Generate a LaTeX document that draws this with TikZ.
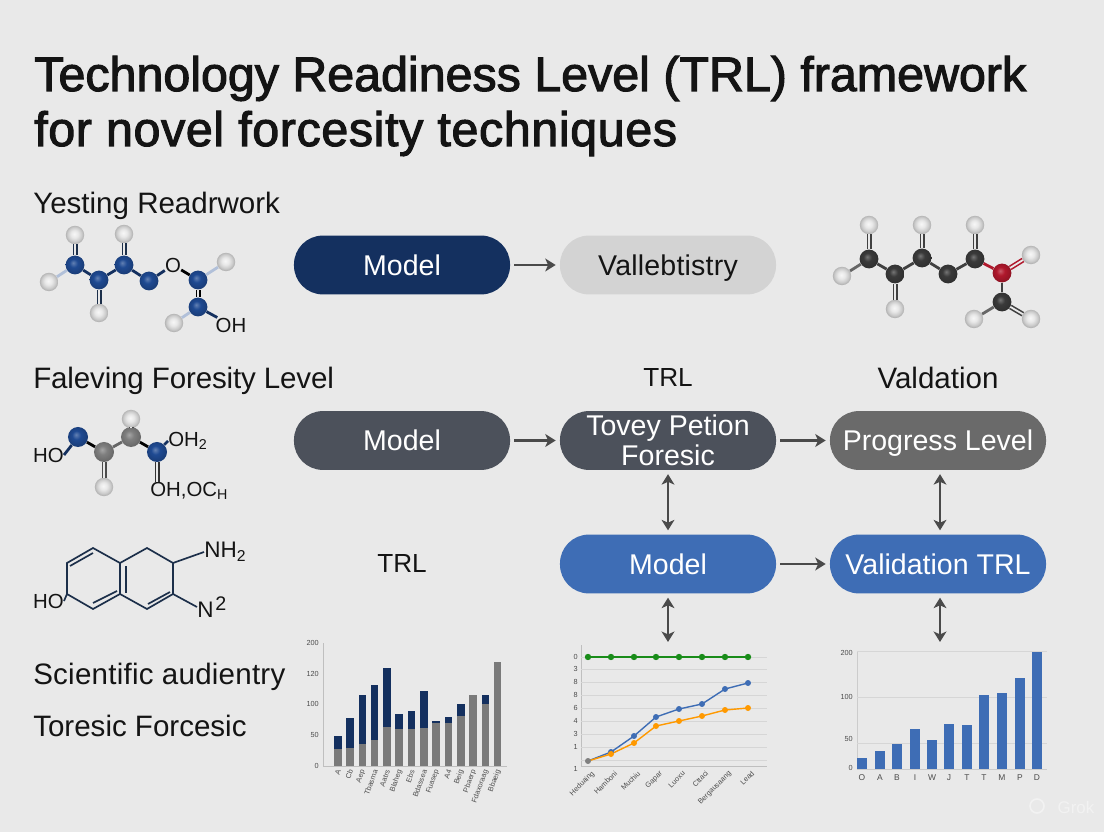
\documentclass[tikz,border=0pt]{standalone}
\usepackage{fontspec}
\setmainfont{Liberation Sans}
\newfontfamily\titlefont[FakeBold=2.2]{Liberation Sans}
\usepackage{tikz}
\usetikzlibrary{arrows.meta,positioning,calc}
\definecolor{bgmid}{HTML}{E9E9E9}
\definecolor{navy}{HTML}{14305F}
\definecolor{slate}{HTML}{4C515B}
\definecolor{steel}{HTML}{6A6A6A}
\definecolor{azure}{HTML}{3E6DB5}
\definecolor{pale}{HTML}{D3D3D3}
\definecolor{ink}{HTML}{141414}
\definecolor{bond}{HTML}{1C2F4A}
\definecolor{gridc}{HTML}{D6D6D6}
\definecolor{arrc}{HTML}{4A4A4A}
\definecolor{atomb}{HTML}{1F4A92}
\definecolor{atomk}{HTML}{3A3A3A}
\definecolor{atomg}{HTML}{7F7F7F}
\definecolor{atomr}{HTML}{B0182C}
\newcommand{\defatom}[2]{\pgfdeclareradialshading{#1}{\pgfpoint{-5bp}{6bp}}{color(0bp)=(#2!70!white); color(11bp)=(#2); color(30bp)=(#2!78!black); color(50bp)=(#2!78!black)}}
\defatom{ballb}{atomb}
\defatom{ballk}{atomk}
\defatom{ballg}{atomg}
\defatom{ballr}{atomr}
\pgfdeclareradialshading{ballh}{\pgfpoint{-2bp}{3bp}}{color(0bp)=(black!3); color(10bp)=(black!9); color(19bp)=(black!20); color(28bp)=(black!36); color(50bp)=(black!36)}
\begin{document}
\begin{tikzpicture}[x=0.025cm,y=-0.025cm,
  head/.style={anchor=base west, inner sep=0pt, text=ink, font=\titlefont\fontsize{34.4}{40}\selectfont},
  lab/.style={inner sep=0pt, text=ink, font=\fontsize{21}{24}\selectfont},
  pill/.style={rounded corners=7.2mm, minimum width=54mm, minimum height=14.7mm, inner sep=0pt,
               align=center, text=white, font=\fontsize{20.3}{21.3}\selectfont},
  one/.style={text height=14.7pt, text depth=0pt},
  arr/.style={-{Stealth[length=2.6mm,width=3.2mm,inset=0.7mm]}, line width=0.55mm, draw=arrc, shorten <=1mm, shorten >=1mm},
  both/.style={arr, {Stealth[length=2.6mm,width=3.2mm,inset=0.7mm]}-{Stealth[length=2.6mm,width=3.2mm,inset=0.7mm]}},
  atom/.style={circle, inner sep=0pt, minimum size=4.7mm},
  cb/.style={atom, shading=ballb},
  cg/.style={atom, shading=ballk},
  cd/.style={atom, shading=ballg},
  cr/.style={atom, shading=ballr},
  ch/.style={atom, minimum size=4.6mm, shading=ballh},
  sb/.style={line width=0.7mm, draw=#1},
  db/.style={line width=0.4mm, draw=#1, double=bgmid, double distance=0.45mm},
  mtxt/.style={inner sep=0pt, text=ink, font=\fontsize{14.5}{16}\selectfont},
  ntxt/.style={inner sep=0pt, text=ink, font=\fontsize{16}{18}\selectfont},
  ring/.style={line width=0.42mm, draw=bond},
  tick/.style={inner sep=0pt, text=black!70, font=\fontsize{5.2}{6}\selectfont},
  gline/.style={line width=0.2mm, draw=gridc}]
% ---- page ----
\useasboundingbox (0,0) rectangle (1104,832);
\fill[bgmid] (0,0) rectangle (1104,832);
% ---- title and labels ----
\node[head] (title1) at (34,91) {Technology Readiness Level (TRL) framework};
\node[head] (title2) at (34,146) {\addfontfeature{LetterSpace=1.3}for novel forcesity techniques};
\node[lab, anchor=base west] (yest) at (33,214) {Yesting Readrwork};
\node[lab, anchor=base west] (fale) at (33,389) {\addfontfeature{LetterSpace=-0.5}Faleving Foresity Level};
\node[lab, font=\fontsize{18.6}{22}\selectfont] (trla) at (668,378) {TRL};
\node[lab] (vald) at (938,378) {Valdation};
\node[lab, font=\fontsize{18.6}{22}\selectfont] (trlb) at (402,564) {TRL};
\node[lab, anchor=base west] (scie) at (33,684) {\addfontfeature{LetterSpace=0.8}Scientific audientry};
\node[lab, anchor=base west] (tore) at (33,736) {Toresic Forcesic};
% ---- row 1: pills ----
\node[pill, one, fill=navy] (modela) at (402,265) {Model};
\node[pill, one, fill=pale, text=ink] (vall) at (668,265) {\addfontfeature{LetterSpace=0.7}Vallebtistry};
% ---- row 2: pills ----
\node[pill, one, fill=slate] (modelb) at (402,440.5) {Model};
\node[pill, fill=slate] (tovey) at (668,440.5) {Tovey Petion\\Foresic};
\node[pill, one, fill=steel] (prog) at (938,440.5) {Progress Level};
% ---- row 3: pills ----
\node[pill, one, fill=azure] (modelc) at (668,564) {Model};
\node[pill, one, fill=azure] (vtrl) at (938,564) {Validation TRL};
% ---- free ends above the charts ----
\coordinate (lineup) at (668,646);
\coordinate (barup) at (940,646);
% ---- arrows ----
\draw[arr] (modela) -- (vall);
\draw[arr] (modelb) -- (tovey);
\draw[arr] (tovey) -- (prog);
\draw[arr] (modelc) -- (vtrl);
\draw[both] (tovey) -- (modelc);
\draw[both] (prog.south -| barup) -- (vtrl.north -| barup);
\draw[both] (modelc) -- (lineup);
\draw[both] (vtrl.south -| barup) -- (barup);
% ---- molecule 1: blue ----
\node[cb] (ca) at (75,265) {};
\node[cb] (cc) at (99,280) {};
\node[cb] (ce) at (124,265) {};
\node[cb] (cf) at (149,281) {};
\node[cb] (cj) at (198,280) {};
\node[cb] (ck) at (198,307) {};
\node[ch] (ha) at (75,235) {};
\node[ch] (hb) at (49,282) {};
\node[ch] (hc) at (99,313) {};
\node[ch] (hd) at (124,234) {};
\node[ch] (he) at (226,262) {};
\node[ch] (hf) at (174,323) {};
\node[mtxt] (oa) at (173,265) {O};
\node[mtxt] (oha) at (231,325) {OH};
\draw[db=bond] (ca) -- (ha);
\draw[db=bond] (cc) -- (hc);
\draw[db=bond] (ce) -- (hd);
\draw[sb=atomb!35!white] (ca) -- (hb);
\draw[sb=atomb!35!white] (cj) -- (he);
\draw[sb=atomb!35!white] (ck) -- (hf);
\draw[sb=navy] (ca) -- (cc);
\draw[sb=navy] (cc) -- (ce);
\draw[sb=navy] (ce) -- (cf);
\draw[sb=navy] (cf) -- (oa);
\draw[sb=black] (oa) -- (cj);
\draw[db=black] (cj) -- (ck);
\draw[sb=navy] (ck) -- (oha);
% ---- molecule 2: dark ----
\node[cg] (da) at (869,259) {};
\node[cg] (db) at (895,274) {};
\node[cg] (dc) at (922,258) {};
\node[cg] (dd) at (948,274) {};
\node[cg] (de) at (975,259) {};
\node[cr] (df) at (1002,273) {};
\node[cg] (dg) at (1002,302) {};
\node[ch] (ja) at (869,225) {};
\node[ch] (jb) at (842,276) {};
\node[ch] (jc) at (895,309) {};
\node[ch] (jd) at (922,225) {};
\node[ch] (je) at (975,225) {};
\node[ch] (jf) at (1031,255) {};
\node[ch] (jg) at (974,319) {};
\node[ch] (jh) at (1031,319) {};
\draw[db=black!75] (da) -- (ja);
\draw[db=black!75] (db) -- (jc);
\draw[db=black!75] (dc) -- (jd);
\draw[db=black!75] (de) -- (je);
\draw[db=atomr] (df) -- (jf);
\draw[db=black!75] (dg) -- (jh);
\draw[sb=black!60] (da) -- (jb);
\draw[sb=black!60] (dg) -- (jg);
\draw[sb=black!75] (da) -- (db);
\draw[sb=black!75] (db) -- (dc);
\draw[sb=black!75] (dc) -- (dd);
\draw[sb=black!75] (dd) -- (de);
\draw[sb=atomr] (de) -- (df);
\draw[sb=black!75] (df) -- (dg);
% ---- molecule 3: grey and blue ----
\node[cb, minimum size=5mm] (na) at (78,437) {};
\node[cd, minimum size=5mm] (ga) at (104,452) {};
\node[cd, minimum size=5mm] (gb) at (131,437) {};
\node[cb, minimum size=5mm] (nb) at (157,452) {};
\node[ch] (ka) at (104,487) {};
\node[ch] (kb) at (131,419) {};
\node[mtxt, anchor=east] (hoa) at (64,455) {HO};
\node[mtxt, anchor=west] (ohb) at (168,441) {OH\textsubscript{2}};
\node[mtxt, anchor=north west] (ohc) at (150,482) {OH,OC\textsubscript{H}};
\draw[sb=navy] (hoa.east) -- (na);
\draw[sb=black] (na) -- (ga);
\draw[sb=black!60] (ga) -- (gb);
\draw[sb=black] (gb) -- (nb);
\draw[sb=navy] (nb) -- (ohb.west);
\draw[db=black!70] (ga) -- (ka);
\draw[db=black!70] (gb) -- (kb);
\draw[db=black!80] (nb) -- (ohc.north -| nb);
% ---- molecule 4: line drawing ----
\coordinate (ra) at (67,563);
\coordinate (rb) at (93,548);
\coordinate (rc) at (120,563);
\coordinate (rd) at (120,594);
\coordinate (re) at (93,609);
\coordinate (rf) at (67,594);
\coordinate (rg) at (147,548);
\coordinate (rh) at (173,563);
\coordinate (ri) at (173,594);
\coordinate (rj) at (147,609);
\node[ntxt, anchor=west] (nha) at (204,552) {NH\textsubscript{2}};
\node[ntxt, anchor=west] (nn) at (197,607) {N\hspace{0.08em}\raisebox{0.55ex}{\fontsize{14}{14}\selectfont 2}};
\node[mtxt, anchor=east] (hob) at (64,601) {HO};
\draw[ring] (hob.east) -- (rf) -- (ra) -- (rb) -- (rc) -- (rd) -- (re) -- (rf);
\draw[ring] (rc) -- (rg) -- (rh) -- (ri) -- (rj) -- (rd);
\draw[ring] (rh) -- (nha.west);
\draw[ring] (ri) -- (nn.west);
\draw[ring] (70,566) -- (93,553);
\draw[ring] (93,603) -- (117,591);
\draw[ring] (126,566) -- (126,593);
\draw[ring] (148,604) -- (170,592);
% ---- chart 1: stacked bars ----
\draw[gline, draw=black!25] (323,643) -- (323,766) -- (507,766);
\foreach \lbl/\yy in {200/643,120/674,100/704,50/735,0/766}
  \node[tick, anchor=east] (sa\yy) at (319,\yy) {\lbl};
\foreach \i/\gr/\nv/\nm in {0/749/736/A,1/748/718/Cb,2/744/695/Aep,3/740/685/Tbasma,4/727/668/Aatrs,
    5/729/714/Blaheg,6/729/711/Ebs,7/728/691/Bdassea,8/723/721/Fuasep,9/723/717/A4,
    10/716/704/Beig,11/695/695/Pbaerp,12/704/695/Fdaxoraag,13/662/662/Bbaeig} {
  \pgfmathsetmacro{\xx}{337.7+12.3*\i}
  \fill[navy] (\xx-3.8,\nv) rectangle (\xx+3.8,\gr);
  \fill[black!52] (\xx-3.8,\gr) rectangle (\xx+3.8,766);
  \node[tick, rotate=70, anchor=east] (sx\i) at (\xx+1,770) {\nm};
}
% ---- chart 2: lines ----
\draw[gline, draw=black!25] (581,645) -- (581,766) -- (767,766);
\foreach \yy/\lbl in {657/0,669/3,682/8,695/8,708/6,721/4,734/3,747/1,760/} {
  \draw[gline] (581,\yy) -- (767,\yy);
  \node[tick, anchor=east] (la\yy) at (578,\yy) {\lbl};
}
\node[tick, anchor=east] (labot) at (578,769) {1};
\draw[line width=0.45mm, draw=green!50!black!90] (588,657) -- (611,657) -- (634,657) -- (656,657) -- (679,657) -- (702,657) -- (725,657) -- (748,657);
\draw[line width=0.35mm, draw=azure] (588,761) -- (611,752) -- (634,736) -- (656,717) -- (679,709) -- (702,704) -- (725,689) -- (748,683);
\draw[line width=0.35mm, draw=orange!80!yellow] (588,761) -- (611,754) -- (634,743) -- (656,726) -- (679,721) -- (702,716) -- (725,710) -- (748,708);
\foreach \xx in {588,611,634,656,679,702,725,748}
  \fill[green!50!black!90] (\xx,657) circle (3.2);
\foreach \xx/\yy in {611/752,634/736,656/717,679/709,702/704,725/689,748/683}
  \fill[azure] (\xx,\yy) circle (3);
\foreach \xx/\yy in {611/754,634/743,656/726,679/721,702/716,725/710,748/708}
  \fill[orange!80!yellow] (\xx,\yy) circle (3);
\fill[black!50] (588,761) circle (3);
\foreach \xx/\nm in {588/Heduaing,611/Hamboni,634/Muchiu,656/Gapar,679/Luoxu,702/Cttaci,725/Bergausaang,748/Lead}
  \node[tick, rotate=45, anchor=north east] (lx\xx) at (\xx+3,770) {\nm};
% ---- chart 3: bars ----
\draw[gline, draw=black!20] (857,651) -- (857,769) -- (1047,769);
\foreach \yy in {651,697,743}
  \draw[gline] (857,\yy) -- (1047,\yy);
\foreach \lbl/\yy in {200/653,100/697,50/739,0/768}
  \node[tick, anchor=east] (ba\yy) at (853,\yy) {\lbl};
\foreach \xx/\tp/\nm in {862/758/O,880/751/A,897/744/B,915/729/I,932/740/W,949/724/J,967/725/T,984/695/T,1002/693/M,1020/678/P,1037/652/D} {
  \fill[azure] (\xx-4.7,\tp) rectangle (\xx+4.7,769);
  \node[tick, font=\fontsize{6}{7}\selectfont] (bx\xx) at (\xx,778) {\nm};
}
% ---- corner mark ----
\node[inner sep=0pt, text=white!40!bgmid, font=\fontsize{12}{14}\selectfont] (grok) at (1076,807) {Grok};
\draw[line width=0.4mm, draw=white!40!bgmid] (1037,806) circle (7);
\end{tikzpicture}
\end{document}
